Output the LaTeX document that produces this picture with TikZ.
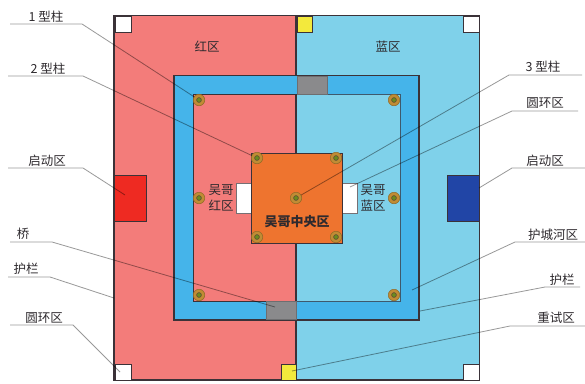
\documentclass[tikz,border=0pt]{standalone}
\usepackage{fontspec}
\setmainfont{Noto Sans CJK SC}
\definecolor{redzone}{HTML}{F37C7A}
\definecolor{bluezone}{HTML}{7FD1EA}
\definecolor{moat}{HTML}{45B4EA}
\definecolor{centre}{HTML}{EE742F}
\definecolor{redstart}{HTML}{EE2A22}
\definecolor{bluestart}{HTML}{2145A6}
\definecolor{retry}{HTML}{F3E93C}
\definecolor{bridge}{HTML}{8A8A8C}
\definecolor{edge}{HTML}{3B3238}
\definecolor{ochre}{HTML}{C08C34}
\definecolor{ink}{HTML}{2E2A2E}
\tikzset{
  zone/.style={draw=edge,line width=1.3pt,inner sep=0pt,outer sep=0pt,rectangle},
  corner/.style={zone,line width=.7pt,fill=white,minimum width=16pt,minimum height=16pt},
  retrybox/.style={corner,fill=retry},
  bridgebox/.style={zone,line width=.4pt,draw=bridge!80!black,fill=bridge},
  whitebox/.style={zone,line width=.8pt,draw=edge!70,fill=white,minimum width=15pt,minimum height=30pt},
  pillar/.style={circle,draw=ochre!75!black,line width=.5pt,fill=ochre,minimum size=11.5pt,inner sep=0pt,outer sep=0pt,
    path picture={\draw[draw=edge!75!ochre,line width=.6pt,fill=ochre!70!green!80!black] (path picture bounding box.center) circle (2.4pt);}},
  leader/.style={draw=black!40,line width=.8pt,blend mode=multiply},
  divider/.style={draw=edge,line width=1.3pt},
  txt/.style={text=ink,font=\fontsize{12.5pt}{15pt}\selectfont,inner sep=0pt},
  twoline/.style={txt,align=center,font=\fontsize{12.5pt}{16pt}\selectfont}
}
\begin{document}
\begin{tikzpicture}[x=1pt,y=-1pt]
\useasboundingbox (0,0) rectangle (585,383);
\fill[white] (0,0) rectangle (585,383);
% zones
\node[zone,fill=redzone,minimum width=182pt,minimum height=364.5pt] (redarea) at (205,197.75) {};
\node[zone,fill=bluezone,minimum width=183.5pt,minimum height=364.5pt] (bluearea) at (387.75,197.75) {};
\node[zone,fill=moat,minimum width=245pt,minimum height=244.5pt] (moatarea) at (296.5,197.75) {};
\node[zone,line width=1pt,draw=edge!70!moat,fill=bluezone,minimum width=104pt,minimum height=207pt] (innerblue) at (348,197.5) {};
\node[zone,line width=1pt,fill=redzone,minimum width=103pt,minimum height=207pt] (innerred) at (244.5,197.5) {};
\draw[divider] (innerred.north east) -- (innerred.south east);
% start zones
\node[zone,line width=.7pt,fill=redstart,minimum width=32pt,minimum height=46pt] (startred) at (130.5,198) {};
\node[zone,line width=.7pt,fill=bluestart,minimum width=32pt,minimum height=46pt] (startblue) at (463.3,198) {};
% corners
\node[corner] (ringa) at (123,24) {};
\node[corner] (ringb) at (471,24) {};
\node[corner] (ringc) at (123,372) {};
\node[corner] (ringd) at (471,372) {};
\node[retrybox,minimum width=15pt] (retrya) at (304.5,24) {};
\node[retrybox,minimum width=15pt] (retryb) at (288.5,372) {};
% bridges
\node[bridgebox,minimum width=30pt,minimum height=18pt] (bridgea) at (312,85) {};
\node[bridgebox,minimum width=30pt,minimum height=18pt] (bridgeb) at (281.5,310.5) {};
% white boxes and centre
\node[whitebox] (ringl) at (243.5,198) {};
\node[whitebox] (ringr) at (350,198) {};
\node[zone,line width=1pt,fill=centre,minimum width=91pt,minimum height=90pt] (central) at (297,198) {};
% leaders
\coordinate (a1) at (10,24);   \coordinate (b1) at (82,24);
\coordinate (a2) at (8,76);    \coordinate (b2) at (83,76);
\coordinate (a3) at (8,168);   \coordinate (b3) at (83,168);
\coordinate (a4) at (10,242);  \coordinate (b4) at (52,242);
\coordinate (a5) at (8,277);   \coordinate (b5) at (50,277);
\coordinate (a6) at (10,325);  \coordinate (b6) at (73,325);
\coordinate (a7) at (582,75);  \coordinate (b7) at (509,75);
\coordinate (a8) at (578,111); \coordinate (b8) at (512,111);
\coordinate (a9) at (585,168); \coordinate (b9) at (512,168);
\coordinate (a10) at (585,242);\coordinate (b10) at (515,242);
\coordinate (a11) at (580,287);\coordinate (b11) at (545,287);
\coordinate (a12) at (585,326);\coordinate (b12) at (510,326);
\coordinate (e3) at (125,195);
\coordinate (e4) at (275,307);
\coordinate (e5) at (114,298);
\coordinate (e6) at (120,372);
\coordinate (e8) at (350,187);
\coordinate (e9) at (479,188);
\coordinate (e10) at (412,290);
\coordinate (e11) at (420,311);
\coordinate (e12) at (292,371);
% pillars
\node[pillar] (p1) at (199,100) {};
\node[pillar] (p2) at (199,198) {};
\node[pillar] (p3) at (199,295) {};
\node[pillar] (p4) at (394,100) {};
\node[pillar] (p5) at (394,198) {};
\node[pillar] (p6) at (394,295) {};
\node[pillar] (c1) at (257,158) {};
\node[pillar] (c2) at (336,158) {};
\node[pillar] (c3) at (257,237) {};
\node[pillar] (c4) at (336,237) {};
\node[pillar] (c5) at (296,198) {};
\draw[leader] (a1) -- (b1) -- (p1);
\draw[leader] (a2) -- (b2) -- (c1);
\draw[leader] (a3) -- (b3) -- (e3);
\draw[leader] (a4) -- (b4) -- (e4);
\draw[leader] (a5) -- (b5) -- (e5);
\draw[leader] (a6) -- (b6) -- (e6);
\draw[leader] (a7) -- (b7) -- (c5);
\draw[leader] (a8) -- (b8) -- (e8);
\draw[leader] (a9) -- (b9) -- (e9);
\draw[leader] (a10) -- (b10) -- (e10);
\draw[leader] (a11) -- (b11) -- (e11);
\draw[leader] (a12) -- (b12) -- (e12);
% zone labels
\node[txt] (tred) at (207,47) {红区};
\node[txt] (tblue) at (388,47) {蓝区};
\node[twoline] (tl) at (221,198) {吴哥\\红区};
\node[twoline] (tr) at (373,198) {吴哥\\蓝区};
\node[txt,font=\fontsize{13pt}{15pt}\selectfont\bfseries] (tc) at (297,222) {吴哥中央区};
% callout labels
\node[txt] (l1) at (46,17) {1 型柱};
\node[txt] (l2) at (48,69) {2 型柱};
\node[txt] (l3) at (47,161) {启动区};
\node[txt] (l4) at (23,234) {桥};
\node[txt] (l5) at (26,269) {护栏};
\node[txt] (l6) at (44,318) {圆环区};
\node[txt] (l7) at (543,67) {3 型柱};
\node[txt] (l8) at (545,103) {圆环区};
\node[txt] (l9) at (545,161) {启动区};
\node[txt] (l10) at (553,235) {护城河区};
\node[txt] (l11) at (562,280) {护栏};
\node[txt] (l12) at (556,318) {重试区};
\end{tikzpicture}
\end{document}
